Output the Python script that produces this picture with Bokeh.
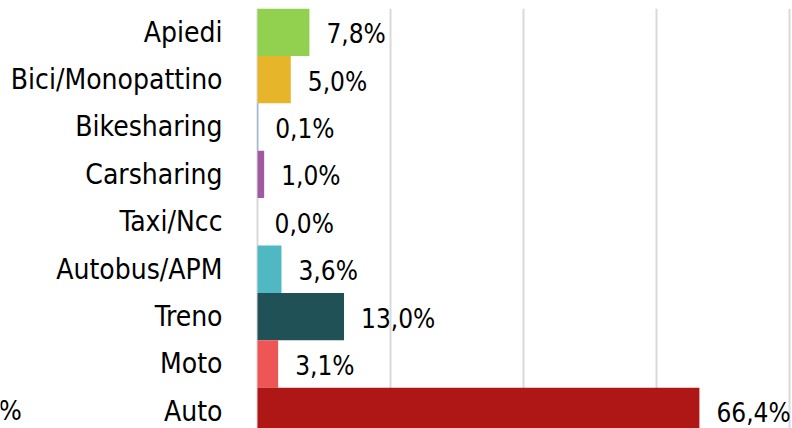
from bokeh.plotting import figure
from bokeh.models import ColumnDataSource, FixedTicker
from bokeh.core.properties import value
from bokeh.embed import file_html
from bokeh.resources import INLINE

categories = ["Apiedi", "Bici/Monopattino", "Bikesharing", "Carsharing", "Taxi/Ncc",
              "Autobus/APM", "Treno", "Moto", "Auto"]
shares = [7.8, 5.0, 0.1, 1.0, 0.0, 3.6, 13.0, 3.1, 66.4]
labels = ["7,8%", "5,0%", "0,1%", "1,0%", "0,0%", "3,6%", "13,0%", "3,1%", "66,4%"]
colors = ["#92D050", "#E7B52A", "#5B9BD5", "#A05BA0", "#7F7F7F",
          "#50B8C3", "#1F5157", "#EE5555", "#AF1616"]
grid_ticks = [0, 20, 40, 60, 80]
# fragment of a neighbouring panel's label, visible at the left edge next to "Auto"
fragment_text = ["%"]
fragment_x = [-35.4]
fragment_y = [0]

n = len(categories)
ypos = [n - 1 - i for i in range(n)]
zeros = [0] * n

FONT = "'DejaVu Sans Condensed', 'Roboto'"

src = ColumnDataSource(dict(y=ypos, v=shares, lab=labels, c=colors, cat=categories, z=zeros))

p = figure(width=792, height=428, output_backend="svg", toolbar_location=None,
           x_range=(-38.62, 80.39), y_range=(-0.361, n - 0.5),
           min_border_left=0, min_border_right=0, min_border_top=8, min_border_bottom=0)
p.outline_line_color = None
p.background_fill_color = "white"
p.border_fill_color = "white"

p.hbar(y="y", right="v", left=0, height=1.0, color="c", line_color=None, source=src)
p.text(x="v", y="y", text="lab", x_offset=17, y_offset=2, text_baseline="middle",
       text_align="left", text_font=value(FONT), text_font_size="26px",
       text_color="black", source=src)
# category labels
p.text(x="z", y="y", text="cat", x_offset=-35, y_offset=0, text_baseline="middle",
       text_align="right", text_font=value(FONT), text_font_size="28px",
       text_color="black", source=src)
p.text(x=fragment_x, y=fragment_y, text=fragment_text, text_baseline="middle",
       text_align="right", y_offset=-1, text_font=value(FONT), text_font_size="27px",
       text_color="black")

p.xaxis.visible = False
p.yaxis.visible = False
p.xgrid.ticker = FixedTicker(ticks=grid_ticks)
p.xgrid.grid_line_color = "#D9D9D9"
p.xgrid.grid_line_width = 2
p.ygrid.visible = False

open("out.html", "w").write(file_html(p, INLINE))
